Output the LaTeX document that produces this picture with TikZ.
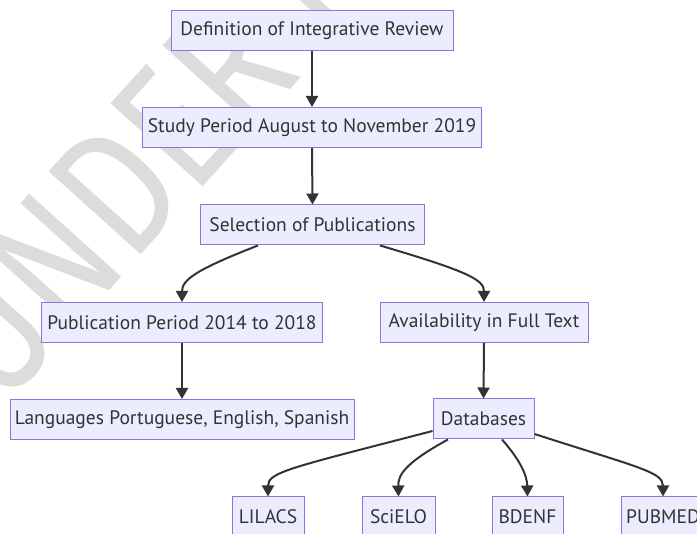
\documentclass[tikz,border=0pt]{standalone}
\usepackage{fontspec}
\setmainfont{PT Sans}
\newfontfamily\wmfont{Fira Sans}
\usetikzlibrary{arrows.meta,calc}
\definecolor{boxfill}{HTML}{ECECFF}
\definecolor{boxline}{HTML}{9370DB}
\definecolor{ink}{HTML}{333333}
\definecolor{wm}{HTML}{DCDCDC}
\tikzset{
  box/.style={draw=boxline, fill=boxfill, line width=1pt, minimum height=40pt,
    inner sep=0pt, text=ink, font=\fontsize{19.5}{22}\selectfont},
  edge/.style={draw=ink, line width=2pt, -{Triangle[length=11pt,width=12pt]}},
}
\begin{document}
\begin{tikzpicture}[x=1pt,y=-1pt]
\useasboundingbox (0,0) rectangle (697,534);
\clip (0,0) rectangle (697,534);
\fill[white] (0,0) rectangle (697,534);
% watermark
\node[text=wm, rotate=48, anchor=base west, inner sep=0pt,
  font=\wmfont\fontsize{180}{180}\selectfont] (wmark) at (2,410)
  {\scalebox{0.8}[1]{UNDER REVIEW}};
% nodes
\node[box, minimum width=282pt] (def) at (312,31) {Definition of Integrative Review};
\node[box, minimum width=339pt] (study) at (312,127.5) {Study Period August to November 2019};
\node[box, minimum width=224pt] (sel) at (312.5,225) {Selection of Publications};
\node[box, minimum width=281pt] (pub) at (182,322.5) {Publication Period 2014 to 2018};
\node[box, minimum width=208pt] (avail) at (484,322.5) {Availability in Full Text};
\node[box, minimum width=344pt] (lang) at (182,419.5) {Languages Portuguese, English, Spanish};
\node[box, minimum width=101pt] (db) at (483.5,419) {Databases};
\node[box, minimum width=72pt] (lil) at (268,517) {LILACS};
\node[box, minimum width=73pt] (sci) at (398.5,517) {SciELO};
\node[box, minimum width=71pt] (bde) at (527.5,517) {BDENF};
\node[box, minimum width=84pt] (pubmed) at (663,517) {PUBMED};
% edges
\draw[edge] (def.south) -- (study.north);
\draw[edge] (study.south) -- (sel.north);
\draw[edge] ($(sel.south)+(-54.5,0)$) .. controls (195,270) and (182,280) .. (pub.north);
\draw[edge] ($(sel.south)+(67.5,0)$) .. controls (470,272) and (484,280) .. (avail.north);
\draw[edge] (pub.south) -- (lang.north);
\draw[edge] (avail.south) -- (db.north);
\draw[edge] ($(db.west)+(0,12)$) .. controls (290,468) and (268,472) .. (lil.north);
\draw[edge] ($(db.south)+(-35.5,0)$) .. controls (405,463) and (398,475) .. (sci.north);
\draw[edge] ($(db.south)+(18.5,0)$) .. controls (520,460) and (527,475) .. (bde.north);
\draw[edge] ($(db.east)+(0,15)$) .. controls (640,468) and (663,472) .. (pubmed.north);
\end{tikzpicture}
\end{document}
